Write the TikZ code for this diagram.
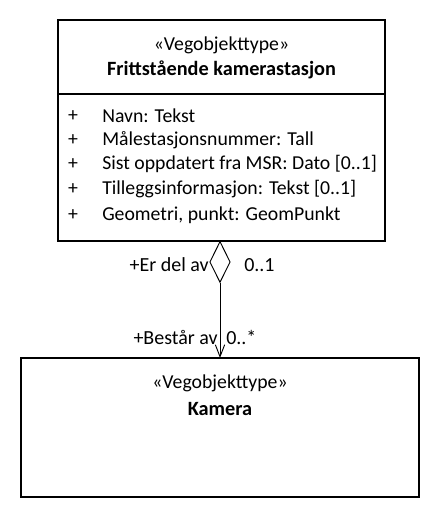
\documentclass[tikz,border=0pt]{standalone}
\usepackage{fontspec}
\setmainfont{Carlito}
\usetikzlibrary{arrows.meta,shapes.geometric}
\begin{document}
\begin{tikzpicture}[x=0.75pt,y=-0.75pt,
  box/.style={draw,line width=0.9pt},
  txt/.style={font=\fontsize{14.8}{17}\selectfont,inner sep=0pt},
  btxt/.style={font=\fontsize{15.2}{17}\selectfont\bfseries,inner sep=0pt},
  lbl/.style={font=\fontsize{15}{17}\selectfont,inner sep=0pt}]
\useasboundingbox (0,0) rectangle (440,518);
% top class
\draw[box] (58,20) rectangle (385,241);
\coordinate (topbot) at (220,241);
\draw[box] (58,94) -- (385,94);
\node[txt] (st1) at (221.5,45) {«Vegobjekttype»};
\node[btxt] (n1) at (221.5,70) {Frittstående kamerastasjon};
\foreach \y/\t [count=\i] in {116/{Navn: Tekst},140/{Målestasjonsnummer: Tall},164/{Sist oppdatert fra MSR: Dato [0..1]},189/{Tilleggsinformasjon: Tekst [0..1]},215/{Geometri, punkt: GeomPunkt}}{
  \node[txt] (p\i) at (73,\y) {+};
  \node[txt,anchor=west] (a\i) at (102,\y) {\t};
}
% bottom class
\draw[box] (21,358) rectangle (419,497);
\coordinate (bottop) at (220,358);
\node[txt] (st2) at (220,383) {«Vegobjekttype»};
\node[btxt] (n2) at (220,409) {Kamera};
% association
\node[diamond,draw,line width=0.7pt,minimum width=20.5*0.75pt,minimum height=41*0.75pt,inner sep=0pt,anchor=north,aspect=0.5] (dia) at (topbot) {};
\draw[line width=0.7pt,-{Straight Barb[length=9pt,width=7pt,line width=0.7pt]}] (dia.south) -- (bottop);
\node[lbl,anchor=east] (r1) at (209,265) {+Er del av};
\node[lbl,anchor=west] (m1) at (244,265) {0..1};
\node[lbl,anchor=east] (r2) at (218,337) {+Består av};
\node[lbl,anchor=west] (m2) at (226,337) {0..*};
\end{tikzpicture}
\end{document}
